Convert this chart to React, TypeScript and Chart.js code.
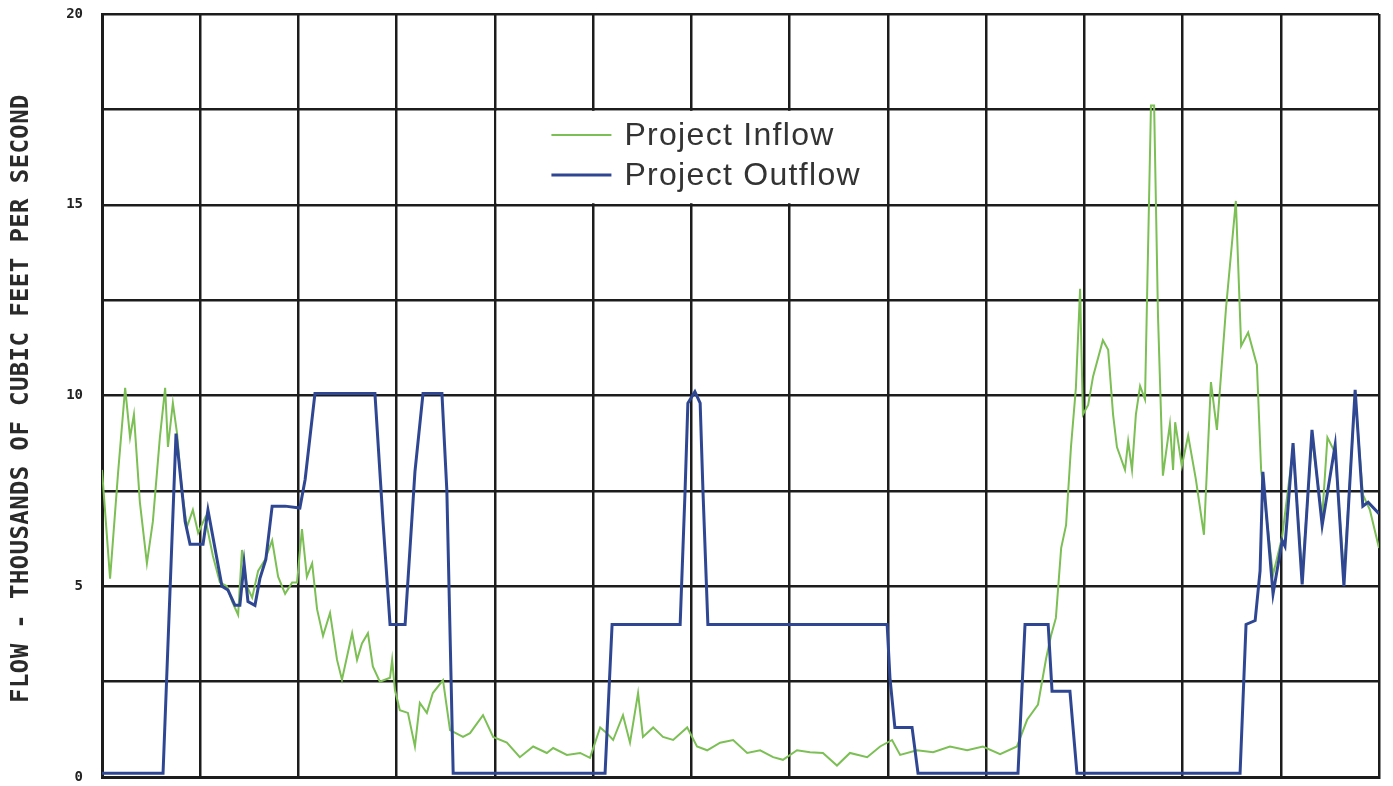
import React, { useEffect, useRef } from "react";
import { Chart, registerables } from "chart.js";

Chart.register(...registerables);

// ---- data (x = day of the 364-day record, y = thousands of cfs) ----
const inflowDays = [
  0, 2.3, 4.6, 6.6, 8.0, 9.1, 10.8, 12.8, 14.5, 16.5, 18.0, 18.8, 20.2, 21.4, 22.8, 24.2, 25.9, 27.4, 29.4,
  31.6, 33.6, 35.6, 37.1, 38.8, 39.9, 41.3, 42.8, 44.5, 46.5, 48.5, 50.2, 52.2, 54.2, 55.6, 57.0, 58.4, 59.9,
  61.3, 63.0, 65.0, 67.0, 68.4, 71.3, 72.7, 74.1, 75.8, 77.2, 79.2, 82.1, 82.7, 83.5, 84.9, 87.2, 89.2, 90.6,
  92.6, 94.3, 97.2, 99.2, 102.9, 104.9, 108.6, 111.5, 115.4, 119.1, 122.9, 126.8, 128.6, 132.5, 136.3, 139.1,
  142.0, 143.9, 145.7, 148.5, 150.5, 152.8, 154.2, 157.1, 159.9, 162.8, 166.8, 169.6, 172.5, 176.2, 179.9,
  183.9, 187.6, 191.3, 194.1, 198.1, 201.8, 205.5, 209.5, 213.2, 218.1, 221.8, 225.2, 227.5, 232.3, 236.9,
  241.7, 246.6, 251.1, 256.0, 260.8, 263.7, 266.8, 269.1, 270.5, 271.9, 273.4, 274.8, 276.2, 277.6, 278.8,
  279.6, 281.1, 282.5, 285.3, 286.8, 288.2, 289.3, 291.6, 292.5, 293.6, 294.7, 295.9, 297.3, 299.0, 299.9,
  301.0, 302.4, 304.4, 305.3, 305.9, 307.8, 309.6, 311.8, 314.1, 316.1, 317.8, 320.4, 323.2, 324.7, 326.7,
  329.2, 330.4, 333.8, 336.4, 339.5, 342.1, 344.9, 347.8, 349.3, 351.5, 354.0, 357.2, 359.4, 361.4, 364,
];
const inflowValues = [
  8.05, 5.2, 8.0, 10.2, 8.9, 9.5, 7.2, 5.6, 6.7, 8.9, 10.2, 8.65, 9.8, 9.0, 7.5, 6.55, 7.0, 6.4, 6.8,
  5.8, 5.1, 5.0, 4.6, 4.25, 5.95, 5.0, 4.7, 5.4, 5.7, 6.2, 5.25, 4.8, 5.1, 5.1, 6.5, 5.25, 5.6,
  4.4, 3.7, 4.3, 3.07, 2.55, 3.77, 3.07, 3.5, 3.77, 2.9, 2.5, 2.6, 3.07, 2.28, 1.75, 1.68, 0.8, 1.94,
  1.68, 2.2, 2.54, 1.23, 1.05, 1.15, 1.62, 1.05, 0.9, 0.52, 0.8, 0.63, 0.76, 0.58, 0.63, 0.5,
  1.3, 1.15, 0.97, 1.62, 0.9, 2.2, 1.05, 1.3, 1.05, 0.97, 1.3, 0.8, 0.7, 0.9, 0.97,
  0.63, 0.7, 0.52, 0.45, 0.7, 0.65, 0.63, 0.3, 0.63, 0.52, 0.8, 0.97, 0.58, 0.7, 0.65,
  0.8, 0.7, 0.8, 0.6, 0.8, 1.5, 1.9, 3.1, 3.7, 4.17, 6.0, 6.6, 8.65, 10.2, 12.8,
  9.5, 9.75, 10.5, 11.45, 11.2, 9.5, 8.65, 8.05, 8.8, 8.05, 9.5, 10.25, 9.9, 17.6, 17.6,
  12.1, 7.9, 9.25, 8.05, 9.3, 8.15, 8.95, 7.8, 6.35, 10.35, 9.1, 12.3, 15.1, 11.3, 11.65,
  10.8, 8.05, 5.3, 6.3, 8.6, 5.3, 8.9, 6.8, 8.9, 8.5, 5.3, 10.0, 7.4, 7.0, 6.0,
];

const outflowDays = [
  0, 17.4, 21.1, 23.7, 25.1, 28.8, 30.2, 34.2, 35.9, 37.9, 39.3, 40.5, 41.6, 43.6, 45.0, 46.7, 48.5, 52.2,
  56.4, 57.9, 60.7, 77.8, 80.1, 82.1, 86.4, 89.2, 91.5, 96.9, 98.3, 100.1, 143.4, 145.4, 164.8, 166.2, 167.0,
  169.0, 170.5, 171.3, 172.7, 223.8, 224.6, 226.0, 230.9, 232.6, 261.1, 263.1, 269.7, 270.8, 275.9, 277.9,
  324.4, 326.1, 328.7, 330.1, 330.9, 333.8, 336.4, 337.2, 339.5, 342.1, 344.9, 347.8, 351.5, 354.0, 357.2,
  359.4, 360.9, 364,
];
const outflowValues = [
  0.1, 0.1, 9.0, 6.7, 6.1, 6.1, 7.0, 5.0, 4.9, 4.5, 4.5, 5.6, 4.6, 4.5, 5.2, 5.7, 7.1, 7.1,
  7.05, 7.8, 10.05, 10.05, 6.7, 4.0, 4.0, 8.0, 10.05, 10.05, 7.5, 0.1, 0.1, 4.0, 4.0, 7.5, 9.8,
  10.1, 9.8, 7.5, 4.0, 4.0, 2.6, 1.3, 1.3, 0.1, 0.1, 4.0, 4.0, 2.25, 2.25, 0.1,
  0.1, 4.0, 4.1, 5.4, 8.0, 4.8, 6.2, 6.05, 8.75, 5.05, 9.1, 6.6, 8.7, 5.0, 10.15,
  7.1, 7.2, 6.9,
];

const yTickLabels = [0, 5, 10, 15, 20];
const legendLabels = ["Project Inflow", "Project Outflow"];
const axisTitle = "FLOW - THOUSANDS OF CUBIC FEET PER SECOND";

const GREEN = "#7cbf55";
const BLUE = "#2f4792";
const GRID = "#1c1c1c";

const overlayPlugin = {
  id: "overlay",
  beforeDatasetsDraw(chart: any) {
    const { ctx, scales } = chart;
    const x = scales.x;
    const y = scales.y;
    // legend box (white, covering the grid inside its cells)
    const left = x.getPixelForValue(4 * 28) + 1.5;
    const right = x.getPixelForValue(8 * 28) - 1.5;
    const top = y.getPixelForValue(17.5) + 1.5;
    const bottom = y.getPixelForValue(15) - 1.5;
    ctx.save();
    ctx.fillStyle = "#ffffff";
    ctx.fillRect(left, top, right - left, bottom - top);
    const colors = [GREEN, BLUE];
    const widths = [2, 3];
    const rows = [top + 24, top + 64];
    ctx.font = '32px "Liberation Sans", Arial, sans-serif';
    (ctx as any).letterSpacing = "1.3px";
    ctx.textBaseline = "middle";
    ctx.textAlign = "left";
    legendLabels.forEach((lab, i) => {
      ctx.strokeStyle = colors[i];
      ctx.lineWidth = widths[i];
      ctx.beginPath();
      ctx.moveTo(left + 55, rows[i]);
      ctx.lineTo(left + 115, rows[i]);
      ctx.stroke();
      ctx.fillStyle = "#333333";
      ctx.fillText(lab, left + 128, rows[i] + 1);
    });
    ctx.restore();
  },
  afterDraw(chart: any) {
    const { ctx, chartArea } = chart;
    ctx.save();
    ctx.translate(22, (chartArea.top + chartArea.bottom) / 2 + 3);
    ctx.rotate(-Math.PI / 2);
    ctx.font = 'bold 24px "DejaVu Sans Mono", monospace';
    (ctx as any).letterSpacing = "0.4px";
    ctx.textAlign = "center";
    ctx.textBaseline = "middle";
    ctx.fillStyle = "#2a2a2a";
    ctx.fillText(axisTitle, 0, 0);
    ctx.restore();
  },
};

export default function App() {
  const canvasRef = useRef<HTMLCanvasElement | null>(null);

  useEffect(() => {
    document.body.style.margin = "0";
    const canvas = canvasRef.current;
    if (!canvas) return;
    const inflow = inflowDays.map((d, i) => ({ x: d, y: inflowValues[i] }));
    const outflow = outflowDays.map((d, i) => ({ x: d, y: outflowValues[i] }));
    const chart = new Chart(canvas, {
      type: "line",
      data: {
        datasets: [
          {
            label: legendLabels[1],
            data: outflow,
            borderColor: BLUE,
            borderWidth: 3,
            pointRadius: 0,
            tension: 0,
            order: 0,
          },
          {
            label: legendLabels[0],
            data: inflow,
            borderColor: GREEN,
            borderWidth: 2,
            pointRadius: 0,
            tension: 0,
            order: 1,
          },
        ],
      },
      options: {
        animation: false,
        responsive: true,
        maintainAspectRatio: false,
        parsing: false as any,
        layout: { padding: { left: 0, right: 14, top: 14, bottom: 9 } },
        plugins: {
          legend: { display: false },
          tooltip: { enabled: false },
          title: { display: false },
        },
        scales: {
          x: {
            type: "linear",
            min: 0,
            max: 364,
            ticks: { display: false, stepSize: 28 },
            grid: { color: GRID, lineWidth: 2.5, drawTicks: false },
            border: { display: true, color: GRID, width: 3 },
            afterFit: (s: any) => {
              s.height = 0;
              s.paddingLeft = 0;
              s.paddingRight = 0;
              s.paddingTop = 0;
              s.paddingBottom = 0;
            },
          },
          y: {
            type: "linear",
            min: 0,
            max: 20,
            ticks: {
              stepSize: 2.5,
              padding: 19,
              color: "#222222",
              font: { family: '"DejaVu Sans Mono", monospace', size: 14, weight: "bold" },
              callback: (v: any) => (yTickLabels.includes(Number(v)) ? String(v) : ""),
            },
            grid: { color: GRID, lineWidth: 2.5, drawTicks: false },
            border: { display: true, color: GRID, width: 3 },
            afterFit: (s: any) => {
              s.width = 102;
              s.paddingTop = 0;
              s.paddingBottom = 0;
              s.paddingLeft = 0;
              s.paddingRight = 0;
            },
          },
        },
      },
      plugins: [overlayPlugin],
    });
    return () => chart.destroy();
  }, []);

  return (
    <div style={{ position: "fixed", left: 0, top: 0, width: 1393, height: 786, background: "#fff" }}>
      <canvas ref={canvasRef} />
    </div>
  );
}
